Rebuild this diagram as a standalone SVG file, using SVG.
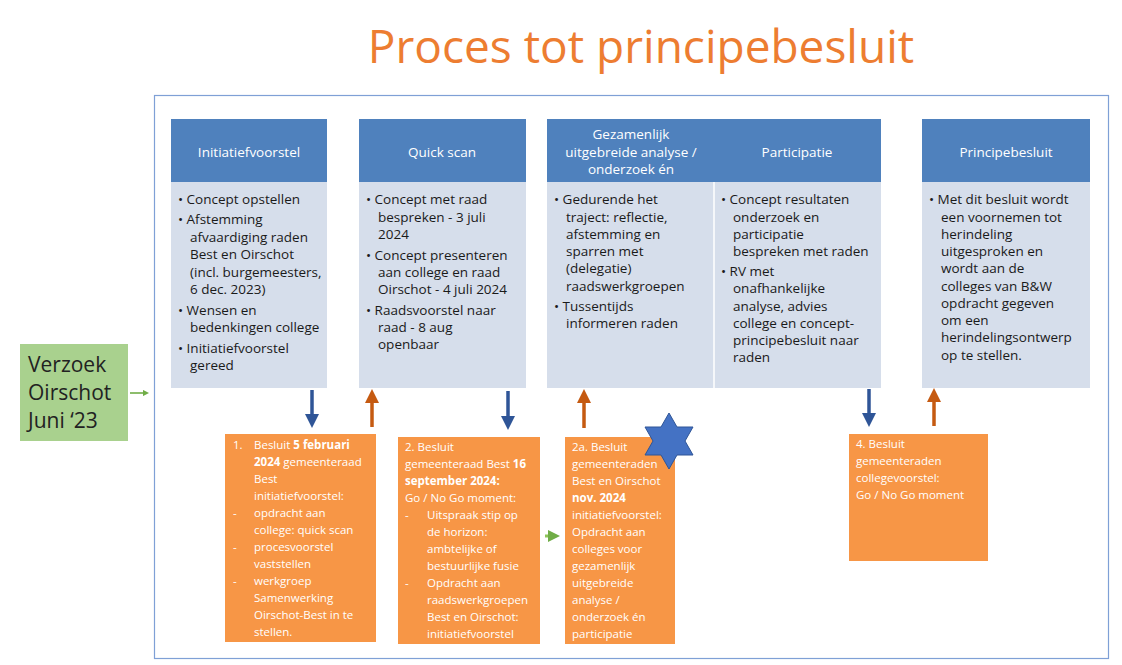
<svg xmlns="http://www.w3.org/2000/svg" width="1122" height="665" viewBox="0 0 1122 665">
<style>
text{font-family:"Open Sans","Liberation Sans",sans-serif}
.hd{fill:#4F81BD}.bd{fill:#D6DEEB}
.ht{fill:#fff;font-size:13.5px;text-anchor:middle}
.bt{fill:#1a1a1a;font-size:13.5px}
.ob{fill:#F79646;stroke:#fff;stroke-width:4}
.ot{fill:#fff;font-size:11.5px}
.b{font-weight:bold}
</style>
<defs>
<marker id="ab" markerWidth="4" markerHeight="4" refX="2" refY="2" orient="auto" markerUnits="strokeWidth"><path d="M0,0 L4,2 L0,4z" fill="#2F5597"/></marker>
<marker id="ao" markerWidth="4" markerHeight="4" refX="2" refY="2" orient="auto" markerUnits="strokeWidth"><path d="M0,0 L4,2 L0,4z" fill="#C55A11"/></marker>
<marker id="ag" markerWidth="4" markerHeight="4" refX="2" refY="2" orient="auto" markerUnits="strokeWidth"><path d="M0,0 L4,2 L0,4z" fill="#70AD47"/></marker>
</defs>
<rect width="1122" height="665" fill="#fff"/>
<text x="641" y="63" font-size="46" fill="#ED7D31" text-anchor="middle">Proces tot principebesluit</text>
<rect x="154.5" y="95.5" width="954" height="563" fill="none" stroke="#7FA0D6" stroke-width="1.2"/>

<g id="verzoek"><rect x="20" y="344" width="108" height="97" fill="#A9D18E"/>
<text x="28" y="372" font-size="21" fill="#222">Verzoek</text><text x="28" y="400" font-size="21" fill="#222">Oirschot</text><text x="28" y="428" font-size="21" fill="#222">Juni ‘23</text></g>

<g id="col1"><rect class="bd" x="171" y="182" width="156" height="206"/><rect class="hd" x="171" y="119" width="156" height="63"/>
<text class="ht" x="249" y="157">Initiatiefvoorstel</text>
<text class="bt"><tspan x="178" y="204">• Concept opstellen</tspan><tspan x="178" y="224">• Afstemming</tspan><tspan x="190" y="241.5">afvaardiging raden</tspan><tspan x="190" y="259">Best en Oirschot</tspan><tspan x="190" y="276.5">(incl. burgemeesters,</tspan><tspan x="190" y="294">6 dec. 2023)</tspan><tspan x="178" y="315">• Wensen en</tspan><tspan x="190" y="332">bedenkingen college</tspan><tspan x="178" y="353">• Initiatiefvoorstel</tspan><tspan x="190" y="370">gereed</tspan></text></g>

<g id="col2"><rect class="bd" x="359" y="182" width="167" height="206"/><rect class="hd" x="359" y="119" width="167" height="63"/>
<text class="ht" x="442" y="157">Quick scan</text>
<text class="bt"><tspan x="366" y="204">• Concept met raad</tspan><tspan x="378" y="221.5">bespreken - 3 juli</tspan><tspan x="378" y="239">2024</tspan><tspan x="366" y="260">• Concept presenteren</tspan><tspan x="378" y="277">aan college en raad</tspan><tspan x="378" y="294">Oirschot - 4 juli 2024</tspan><tspan x="366" y="315">• Raadsvoorstel naar</tspan><tspan x="378" y="332">raad - 8 aug</tspan><tspan x="378" y="349">openbaar</tspan></text></g>

<g id="col3"><rect class="bd" x="547" y="182" width="334" height="206"/><rect class="hd" x="547" y="119" width="334" height="63"/>
<line x1="714" y1="182" x2="714" y2="388" stroke="#fff" stroke-width="1.5"/>
<text class="ht" x="631" y="139">Gezamenlijk</text><text class="ht" x="631" y="157">uitgebreide analyse /</text><text class="ht" x="631" y="174">onderzoek én</text>
<text class="bt"><tspan x="554" y="204">• Gedurende het</tspan><tspan x="566" y="221.5">traject: reflectie,</tspan><tspan x="566" y="239">afstemming en</tspan><tspan x="566" y="256">sparren met</tspan><tspan x="566" y="273">(delegatie)</tspan><tspan x="566" y="290.5">raadswerkgroepen</tspan><tspan x="554" y="311">• Tussentijds</tspan><tspan x="566" y="328">informeren raden</tspan></text></g>
<g id="col4"><text class="ht" x="797" y="157">Participatie</text>
<text class="bt"><tspan x="721" y="204">• Concept resultaten</tspan><tspan x="733" y="221.5">onderzoek en</tspan><tspan x="733" y="239">participatie</tspan><tspan x="733" y="256">bespreken met raden</tspan><tspan x="721" y="276">• RV met</tspan><tspan x="733" y="293">onafhankelijke</tspan><tspan x="733" y="310.5">analyse, advies</tspan><tspan x="733" y="328">college en  concept-</tspan><tspan x="733" y="345">principebesluit naar</tspan><tspan x="733" y="362">raden</tspan></text></g>

<g id="col5"><rect class="bd" x="922" y="182" width="168" height="206"/><rect class="hd" x="922" y="119" width="168" height="63"/>
<text class="ht" x="1006" y="157">Principebesluit</text>
<text class="bt"><tspan x="929" y="204">• Met dit besluit wordt</tspan><tspan x="941" y="221.5">een voornemen tot</tspan><tspan x="941" y="239">herindeling</tspan><tspan x="941" y="256">uitgesproken en</tspan><tspan x="941" y="273">wordt aan de</tspan><tspan x="941" y="290.5">colleges van B&amp;W</tspan><tspan x="941" y="308">opdracht gegeven</tspan><tspan x="941" y="325">om een</tspan><tspan x="941" y="342">herindelingsontwerp</tspan><tspan x="941" y="360">op te stellen.</tspan></text></g>

<g id="besluit1"><rect class="ob" x="223" y="432" width="155" height="212"/>
<text class="ot"><tspan x="233" y="449">1.</tspan><tspan x="254" y="449">Besluit </tspan><tspan class="b">5 februari</tspan><tspan x="254" y="466" class="b">2024</tspan><tspan> gemeenteraad</tspan><tspan x="254" y="483">Best</tspan><tspan x="254" y="500">initiatiefvoorstel:</tspan><tspan x="233" y="517">-</tspan><tspan x="254" y="517">opdracht aan</tspan><tspan x="254" y="534">college: quick scan</tspan><tspan x="233" y="551">-</tspan><tspan x="254" y="551">procesvoorstel</tspan><tspan x="254" y="568">vaststellen</tspan><tspan x="233" y="585">-</tspan><tspan x="254" y="585">werkgroep</tspan><tspan x="254" y="602">Samenwerking</tspan><tspan x="254" y="619">Oirschot-Best in te</tspan><tspan x="254" y="636">stellen.</tspan></text></g>

<g id="besluit2"><rect class="ob" x="396" y="435" width="146" height="211"/>
<text class="ot"><tspan x="405" y="451">2. Besluit</tspan><tspan x="405" y="468">gemeenteraad Best </tspan><tspan class="b">16</tspan><tspan x="405" y="485" class="b">september 2024:</tspan><tspan x="405" y="502">Go / No Go moment:</tspan><tspan x="405" y="519">-</tspan><tspan x="427" y="519">Uitspraak stip op</tspan><tspan x="427" y="536">de horizon:</tspan><tspan x="427" y="553">ambtelijke of</tspan><tspan x="427" y="570">bestuurlijke fusie</tspan><tspan x="405" y="587">-</tspan><tspan x="427" y="587">Opdracht aan</tspan><tspan x="427" y="604">raadswerkgroepen</tspan><tspan x="427" y="621">Best en Oirschot:</tspan><tspan x="427" y="638">initiatiefvoorstel</tspan></text></g>

<g id="besluit2a"><rect class="ob" x="563" y="435" width="114" height="211"/>
<text class="ot"><tspan x="572" y="451">2a. Besluit</tspan><tspan x="572" y="468">gemeenteraden</tspan><tspan x="572" y="485">Best en Oirschot</tspan><tspan x="572" y="502" class="b">nov. 2024</tspan><tspan x="572" y="519">initiatiefvoorstel:</tspan><tspan x="572" y="536">Opdracht aan</tspan><tspan x="572" y="553">colleges voor</tspan><tspan x="572" y="570">gezamenlijk</tspan><tspan x="572" y="587">uitgebreide</tspan><tspan x="572" y="604">analyse /</tspan><tspan x="572" y="621">onderzoek én</tspan><tspan x="572" y="638">participatie</tspan></text>
<polygon points="669,413 677,427 693,427 685,441 693,455 677,455 669,469 661,455 645,455 653,441 645,427 661,427" fill="#4472C4" stroke="#2F5597" stroke-width="1"/></g>

<g id="besluit4"><rect class="ob" x="847" y="432" width="143" height="131"/>
<text class="ot"><tspan x="856" y="448">4. Besluit</tspan><tspan x="856" y="465">gemeenteraden</tspan><tspan x="856" y="482">collegevoorstel:</tspan><tspan x="856" y="499">Go / No Go moment</tspan></text></g>

<g id="connectors" stroke-width="3.5">
<line x1="130" y1="393" x2="146" y2="393" stroke="#70AD47" stroke-width="1.6" marker-end="url(#ag)"/>
<line x1="312" y1="390" x2="312" y2="421" stroke="#2F5597" marker-end="url(#ab)"/>
<line x1="372" y1="427" x2="372" y2="396" stroke="#C55A11" marker-end="url(#ao)"/>
<line x1="508" y1="391" x2="508" y2="423" stroke="#2F5597" marker-end="url(#ab)"/>
<line x1="584" y1="428" x2="584" y2="396" stroke="#C55A11" marker-end="url(#ao)"/>
<line x1="869" y1="389" x2="869" y2="420" stroke="#2F5597" marker-end="url(#ab)"/>
<line x1="934" y1="426" x2="934" y2="395" stroke="#C55A11" marker-end="url(#ao)"/>
<line x1="545" y1="536" x2="554" y2="536" stroke="#8FC45A" stroke-width="3" marker-end="url(#ag)"/>
</g>
</svg>
